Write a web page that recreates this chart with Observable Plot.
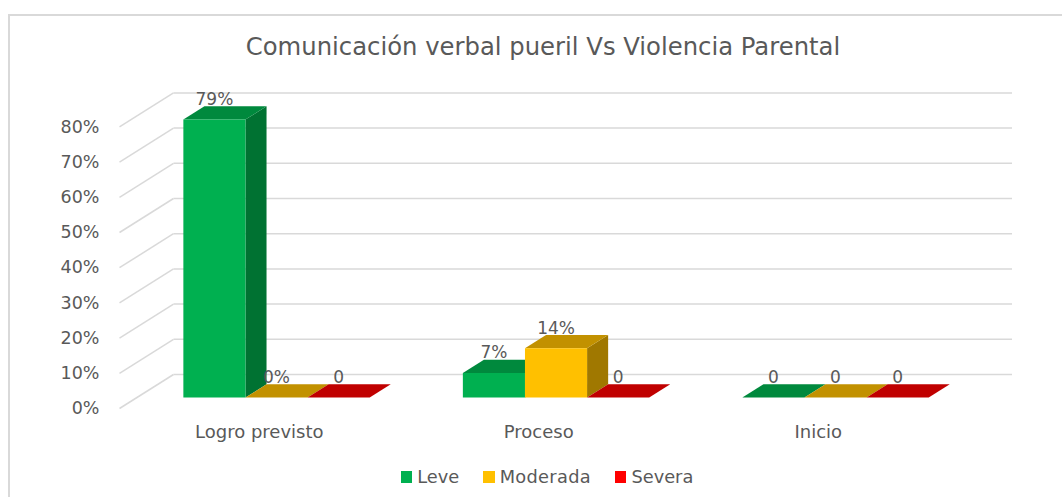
<!DOCTYPE html>
<html>
<head>
<meta charset="utf-8">
<script src="https://cdn.jsdelivr.net/npm/d3@7"></script>
<script src="https://cdn.jsdelivr.net/npm/@observablehq/plot@0.6"></script>
<style>
  html, body { margin: 0; padding: 0; background: #fff; }
  body { width: 1062px; height: 497px; overflow: hidden; position: relative; font-family: "DejaVu Sans", sans-serif; color: #595959; }
  #frame { position: absolute; left: 8px; top: 14px; width: 1100px; height: 600px; border: 2.5px solid #d9d9d9; box-sizing: border-box; pointer-events: none; }
  #title { height: 78px; box-sizing: border-box; padding-top: 35px; padding-left: 24px; text-align: center; font-size: 24.3px; line-height: 24px; white-space: nowrap; }
  #chart { height: 372px; }
  #chart svg { display: block; }
  #legend { height: 47px; display: flex; justify-content: center; align-items: flex-start; padding-left: 32px; box-sizing: border-box; padding-top: 17px; font-size: 17.8px; line-height: 20px; }
  .item { display: flex; align-items: center; margin: 0 12px; }
  .sw { width: 11.5px; height: 11.5px; margin-right: 5px; }
  .item:nth-child(2) span { letter-spacing: 0.3px; }
</style>
</head>
<body>
<div id="frame"></div>
<div id="title"></div>
<div id="chart"></div>
<div id="legend"></div>
<script>
// ---- data ----
const title = "Comunicación verbal pueril Vs Violencia Parental";
const categories = ["Logro previsto", "Proceso", "Inicio"];
const series = ["Leve", "Moderada", "Severa"];
const leve = [79, 7, 0];
const moderada = [0, 14, 0];
const severa = [0, 0, 0];
const leveLabels = ["79%", "7%", "0"];
const moderadaLabels = ["0%", "14%", "0"];
const severaLabels = ["0", "0", "0"];
const yTicks = [0, 10, 20, 30, 40, 50, 60, 70, 80];

// ---- styles ----
const frontColors = ["#00b050", "#ffc000", "#ff0000"];
const topColors = ["#00893d", "#c29100", "#c00000"];
const sideColors = ["#007232", "#a07800", "#a00000"];

const values = [leve, moderada, severa];
const labels = [leveLabels, moderadaLabels, severaLabels];

// oblique 3D projection expressed in data units
const DX = 0.1932, DY = 9.66;   // shift for full depth (z = 1)
const ZF = 0.32, ZB = 0.71;     // bar front / back depth
const BW = 1 / 4.5, GAP = 0.75 * BW;
const proj = (x, v, z) => ({x: x + DX * z, y: v + DY * z});

const polys = [];
const labelData = [];
categories.forEach((c, i) => series.forEach((s, j) => {
  const v = values[j][i];
  const x0 = i + GAP + j * BW, x1 = x0 + BW;
  const add = (id, color, pts) => pts.forEach(p => polys.push({id, color, ...proj(...p)}));
  add(`${i}-${j}-side`, sideColors[j], [[x1, 0, ZF], [x1, v, ZF], [x1, v, ZB], [x1, 0, ZB]]);
  add(`${i}-${j}-top`, topColors[j], [[x0, v, ZF], [x1, v, ZF], [x1, v, ZB], [x0, v, ZB]]);
  if (v > 0) add(`${i}-${j}-front`, frontColors[j], [[x0, 0, ZF], [x1, 0, ZF], [x1, v, ZF], [x0, v, ZF]]);
  labelData.push({text: labels[j][i], ...proj(x0 + BW / 2, v, ZF)});
}));

const grid = [];
yTicks.forEach(t => {
  const a = proj(0, t, 0), b = proj(0, t, 1), c = proj(categories.length, t, 1);
  grid.push({x1: a.x, y1: a.y, x2: b.x, y2: b.y});
  grid.push({x1: b.x, y1: b.y, x2: c.x, y2: c.y});
});

document.getElementById("title").textContent = title;

const chart = Plot.plot({
  width: 1062,
  height: 372,
  marginLeft: 119, marginRight: 0, marginTop: 0, marginBottom: 32,
  x: {domain: [0, 3], range: [119, 957.5], label: null},
  y: {domain: [0, 80], range: [330, 48.4], label: null},
  color: {type: "identity"},
  style: {fontFamily: "DejaVu Sans", color: "#595959", background: "transparent", overflow: "visible"},
  marks: [
    Plot.link(grid, {x1: "x1", y1: "y1", x2: "x2", y2: "y2", stroke: "#d9d9d9", strokeWidth: 1.5}),
    Plot.line(polys, {x: "x", y: "y", z: "id", fill: "color", stroke: "none"}),
    Plot.text(labelData, {x: "x", y: "y", text: "text", dy: -20, fontSize: 17, fill: "#595959"}),
    Plot.axisY({ticks: yTicks, tickFormat: d => d + "%", tickSize: 0, tickPadding: 20, fontSize: 17.5, label: null, fill: "#595959"}),
    Plot.axisX({ticks: [0.5, 1.5, 2.5], tickFormat: d => categories[Math.floor(d)], tickSize: 0, tickPadding: 7, fontSize: 18, label: null, fill: "#595959"})
  ]
});
document.getElementById("chart").appendChild(chart);

const legend = document.getElementById("legend");
series.forEach((s, j) => {
  const it = document.createElement("div");
  it.className = "item";
  it.innerHTML = `<div class="sw" style="background:${frontColors[j]}"></div><span>${s}</span>`;
  legend.appendChild(it);
});
</script>
</body>
</html>
